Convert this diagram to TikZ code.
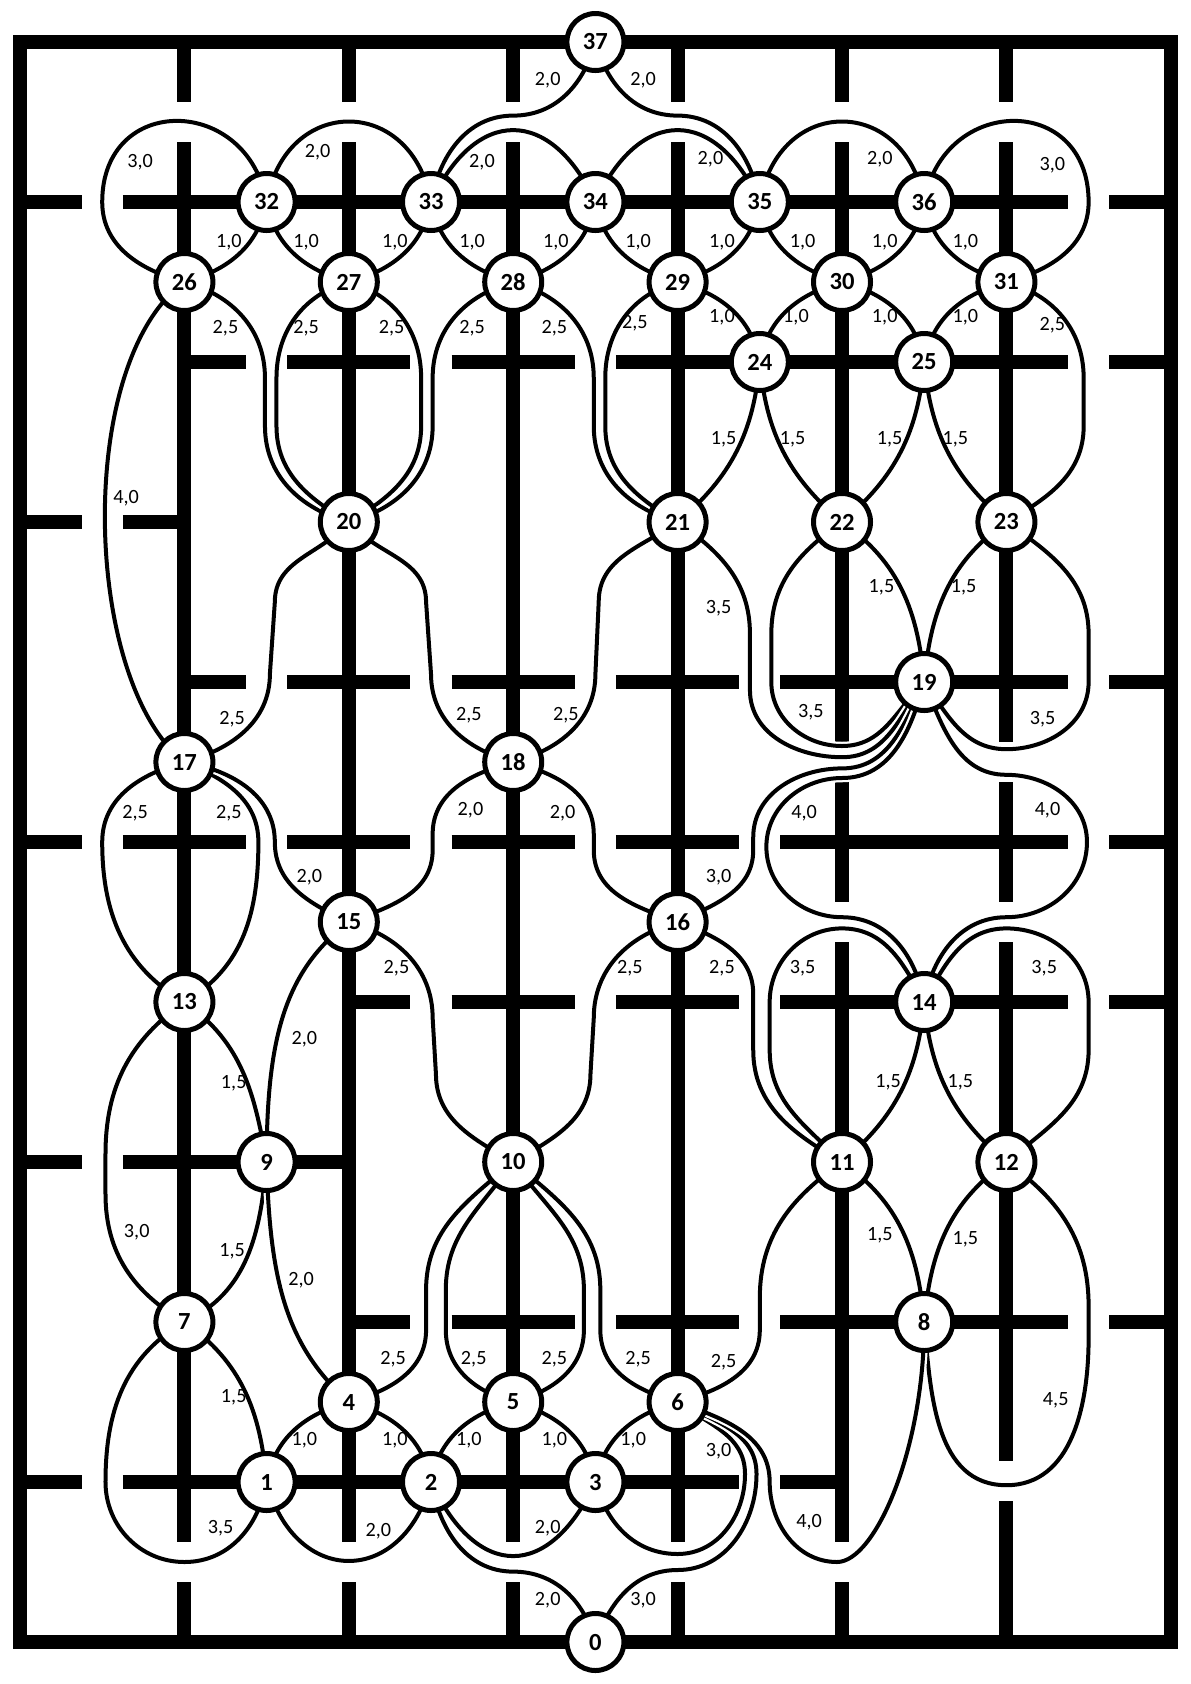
\documentclass[tikz,border=0pt]{standalone}
\usepackage{fontspec}
\setmainfont{Carlito}
\pgfdeclarelayer{walls}
\pgfdeclarelayer{edges}
\pgfsetlayers{walls,edges,main}
\begin{document}
\begin{tikzpicture}[x=3.288cm,y=-3.2cm,
 wallline/.style={line width=0.28cm, line cap=butt, line join=miter},
 link/.style={line width=0.08cm, preaction={draw=white, line width=0.17cm}},
 vtx/.style={circle, draw, line width=0.1cm, fill=white, minimum size=1.14cm, inner sep=0pt, font=\bfseries\fontsize{14}{15}\selectfont},
 lbl/.style={inner sep=0pt, font=\fontsize{11.5}{12}\selectfont}]
\useasboundingbox (-0.1217,-0.2625) rectangle (7.1168,10.2625);
% nodes
\node[vtx] (n37) at (3.5,0) {37};
\node[vtx] (n0) at (3.5,10) {0};
\node[vtx] (n32) at (1.5,1) {32};
\node[vtx] (n33) at (2.5,1) {33};
\node[vtx] (n34) at (3.5,1) {34};
\node[vtx] (n35) at (4.5,1) {35};
\node[vtx] (n36) at (5.5,1) {36};
\node[vtx] (n26) at (1,1.5) {26};
\node[vtx] (n27) at (2,1.5) {27};
\node[vtx] (n28) at (3,1.5) {28};
\node[vtx] (n29) at (4,1.5) {29};
\node[vtx] (n30) at (5,1.5) {30};
\node[vtx] (n31) at (6,1.5) {31};
\node[vtx] (n24) at (4.5,2) {24};
\node[vtx] (n25) at (5.5,2) {25};
\node[vtx] (n20) at (2,3) {20};
\node[vtx] (n21) at (4,3) {21};
\node[vtx] (n22) at (5,3) {22};
\node[vtx] (n23) at (6,3) {23};
\node[vtx] (n19) at (5.5,4) {19};
\node[vtx] (n17) at (1,4.5) {17};
\node[vtx] (n18) at (3,4.5) {18};
\node[vtx] (n15) at (2,5.5) {15};
\node[vtx] (n16) at (4,5.5) {16};
\node[vtx] (n13) at (1,6) {13};
\node[vtx] (n14) at (5.5,6) {14};
\node[vtx] (n9) at (1.5,7) {9};
\node[vtx] (n10) at (3,7) {10};
\node[vtx] (n11) at (5,7) {11};
\node[vtx] (n12) at (6,7) {12};
\node[vtx] (n7) at (1,8) {7};
\node[vtx] (n8) at (5.5,8) {8};
\node[vtx] (n4) at (2,8.5) {4};
\node[vtx] (n5) at (3,8.5) {5};
\node[vtx] (n6) at (4,8.5) {6};
\node[vtx] (n1) at (1.5,9) {1};
\node[vtx] (n2) at (2.5,9) {2};
\node[vtx] (n3) at (3.5,9) {3};
% labels
\foreach \x/\y/\a/\b [count=\i] in {
 3.21/0.24/2/0, 3.79/0.24/2/0, 0.73/0.75/3/0, 1.81/0.69/2/0, 2.81/0.75/2/0,
 4.2/0.73/2/0, 5.23/0.73/2/0, 6.28/0.77/3/0,
 1.27/1.25/1/0, 1.74/1.25/1/0, 2.28/1.25/1/0, 2.75/1.25/1/0, 3.26/1.25/1/0,
 3.76/1.25/1/0, 4.27/1.25/1/0, 4.76/1.25/1/0, 5.26/1.25/1/0, 5.75/1.25/1/0,
 1.25/1.79/2/5, 1.74/1.79/2/5, 2.26/1.79/2/5, 2.75/1.79/2/5, 3.25/1.79/2/5, 3.74/1.76/2/5,
 4.27/1.72/1/0, 4.72/1.72/1/0, 5.26/1.72/1/0, 5.75/1.72/1/0, 6.28/1.77/2/5,
 4.28/2.48/1/5, 4.70/2.48/1/5, 5.29/2.48/1/5, 5.69/2.48/1/5,
 0.645/2.85/4/0, 4.25/3.54/3/5, 5.24/3.41/1/5, 5.74/3.41/1/5,
 1.29/4.23/2/5, 2.73/4.21/2/5, 3.32/4.21/2/5, 4.81/4.19/3/5, 6.22/4.23/3/5,
 0.70/4.82/2/5, 1.27/4.82/2/5, 2.74/4.80/2/0, 3.30/4.82/2/0, 4.77/4.82/4/0, 6.25/4.80/4/0,
 1.76/5.22/2/0, 4.25/5.22/3/0,
 2.29/5.79/2/5, 3.71/5.79/2/5, 4.27/5.79/2/5, 4.76/5.79/3/5, 6.23/5.79/3/5,
 1.73/6.23/2/0, 1.30/6.51/1/5, 5.28/6.50/1/5, 5.72/6.50/1/5,
 0.71/7.44/3/0, 1.29/7.56/1/5, 5.23/7.46/1/5, 5.75/7.48/1/5, 1.71/7.74/2/0,
 2.27/8.23/2/5, 2.76/8.23/2/5, 3.25/8.23/2/5, 3.76/8.23/2/5, 4.28/8.25/2/5,
 1.30/8.47/1/5, 6.30/8.49/4/5,
 1.73/8.74/1/0, 2.28/8.74/1/0, 2.73/8.74/1/0, 3.25/8.74/1/0, 3.73/8.74/1/0,
 4.25/8.81/3/0, 4.80/9.25/4/0, 1.22/9.29/3/5, 2.18/9.31/2/0, 3.21/9.29/2/0,
 3.21/9.74/2/0, 3.79/9.74/3/0}
 \node[lbl] (lab\i) at (\x,\y) {\a,\b};
% walls
\begin{pgfonlayer}{walls}
\draw[wallline] (0,0) rectangle (7,10);
\draw[wallline] (0,1)--(0.375,1) (0.625,1)--(6.375,1) (6.625,1)--(7,1);
\draw[wallline] (1,2)--(1.375,2) (1.625,2)--(2.375,2) (2.625,2)--(3.375,2) (3.625,2)--(6.375,2) (6.625,2)--(7,2);
\draw[wallline] (0,3)--(0.375,3) (0.625,3)--(1,3);
\draw[wallline] (1,4)--(1.375,4) (1.625,4)--(2.375,4) (2.625,4)--(3.375,4) (3.625,4)--(4.375,4) (4.625,4)--(6.375,4) (6.625,4)--(7,4);
\draw[wallline] (0,5)--(0.375,5) (0.625,5)--(1.375,5) (1.625,5)--(2.375,5) (2.625,5)--(3.375,5) (3.625,5)--(4.375,5) (4.625,5)--(6.375,5) (6.625,5)--(7,5);
\draw[wallline] (2,6)--(2.375,6) (2.625,6)--(3.375,6) (3.625,6)--(4.375,6) (4.625,6)--(6.375,6) (6.625,6)--(7,6);
\draw[wallline] (0,7)--(0.375,7) (0.625,7)--(2,7);
\draw[wallline] (2,8)--(2.375,8) (2.625,8)--(3.375,8) (3.625,8)--(4.375,8) (4.625,8)--(6.375,8) (6.625,8)--(7,8);
\draw[wallline] (0,9)--(0.375,9) (0.625,9)--(4.375,9) (4.625,9)--(5,9);
\foreach \c in {1,2,3,4}
 \draw[wallline] (\c,0)--(\c,0.375) (\c,0.625)--(\c,9.375) (\c,9.625)--(\c,10);
\draw[wallline] (5,0)--(5,0.375) (5,0.625)--(5,4.375) (5,4.625)--(5,5.375) (5,5.625)--(5,9.375) (5,9.625)--(5,10);
\draw[wallline] (6,0)--(6,0.375) (6,0.625)--(6,4.375) (6,4.625)--(6,5.375) (6,5.625)--(6,8.87) (6,9.12)--(6,10);
\end{pgfonlayer}
% connectors
\begin{pgfonlayer}{edges}
\draw[link] (n37.center) to[out=-105,in=0] (3,0.46) to[out=180,in=80] (n33.center);
\draw[link] (n37.center) to[out=-75,in=180] (4,0.46) to[out=0,in=100] (n35.center);
\draw[link] (n32.center) to[out=80,in=100,looseness=1.7] (n33.center);
\draw[link] (n33.center) to[out=65,in=115,looseness=1.65] (n34.center);
\draw[link] (n34.center) to[out=65,in=115,looseness=1.65] (n35.center);
\draw[link] (n35.center) to[out=80,in=100,looseness=1.7] (n36.center);
\draw[link] (n32.center) to[out=100,in=90,looseness=1.7] (0.5,1) to[out=-90,in=165] (n26.center);
\draw[link] (n36.center) to[out=80,in=90,looseness=1.7] (6.5,1) to[out=-90,in=15] (n31.center);
\draw[link] (n26.center) to[out=15,in=-100] (n32.center);
\draw[link] (n32.center) to[out=-80,in=165] (n27.center);
\draw[link] (n27.center) to[out=15,in=-100] (n33.center);
\draw[link] (n33.center) to[out=-80,in=165] (n28.center);
\draw[link] (n28.center) to[out=15,in=-100] (n34.center);
\draw[link] (n34.center) to[out=-80,in=165] (n29.center);
\draw[link] (n29.center) to[out=15,in=-100] (n35.center);
\draw[link] (n35.center) to[out=-80,in=165] (n30.center);
\draw[link] (n30.center) to[out=15,in=-100] (n36.center);
\draw[link] (n36.center) to[out=-80,in=165] (n31.center);
\draw[link] (n29.center) to[out=-15,in=100] (n24.center);
\draw[link] (n30.center) to[out=-165,in=80] (n24.center);
\draw[link] (n30.center) to[out=-15,in=100] (n25.center);
\draw[link] (n31.center) to[out=-165,in=80] (n25.center);
\draw[link] (n26.center) to[out=-15,in=90] (1.49,2.1) -- (1.49,2.4) to[out=-90,in=165] (n20.center);
\draw[link] (n27.center) to[out=-165,in=90] (1.56,2.1) -- (1.56,2.4) to[out=-90,in=150] (n20.center);
\draw[link] (n27.center) to[out=-15,in=90] (2.44,2.1) -- (2.44,2.4) to[out=-90,in=30] (n20.center);
\draw[link] (n28.center) to[out=-165,in=90] (2.51,2.1) -- (2.51,2.4) to[out=-90,in=15] (n20.center);
\draw[link] (n28.center) to[out=-15,in=90] (3.49,2.1) -- (3.49,2.4) to[out=-90,in=165] (n21.center);
\draw[link] (n29.center) to[out=-165,in=90] (3.56,2.1) -- (3.56,2.4) to[out=-90,in=150] (n21.center);
\draw[link] (n31.center) to[out=-15,in=90] (6.47,2.1) -- (6.47,2.4) to[out=-90,in=30] (n23.center);
\draw[link] (n24.center) to[out=-95,in=40] (n21.center);
\draw[link] (n24.center) to[out=-85,in=140] (n22.center);
\draw[link] (n25.center) to[out=-95,in=40] (n22.center);
\draw[link] (n25.center) to[out=-85,in=140] (n23.center);
\draw[link] (n22.center) to[out=-35,in=95] (n19.center);
\draw[link] (n23.center) to[out=-145,in=85] (n19.center);
\draw[link] (n22.center) to[out=-145,in=90] (4.57,3.7) -- (4.57,4.0) to[out=-90,in=180] (5.0,4.40) to[out=0,in=-135] (n19.center);
\draw[link] (n21.center) to[out=-35,in=90] (4.44,3.7) -- (4.44,4.05) to[out=-90,in=180] (5.0,4.47) to[out=0,in=-125] (n19.center);
\draw[link] (n23.center) to[out=-35,in=90] (6.5,3.7) -- (6.5,4.0) to[out=-90,in=0] (6.0,4.42) to[out=180,in=-55] (n19.center);
\draw[link] (n19.center) to[out=-115,in=0] (5.0,4.54) to[out=180,in=90] (4.46,4.97) -- (4.46,5.05) to[out=-90,in=25] (n16.center);
\draw[link] (n19.center) to[out=-105,in=0] (5.0,4.60) to[out=180,in=90] (4.54,5.03) to[out=-90,in=180] (5.0,5.47) to[out=0,in=100] (n14.center);
\draw[link] (n19.center) to[out=-68,in=180] (6.0,4.58) to[out=0,in=90] (6.49,5.0) to[out=-90,in=0] (6.0,5.47) to[out=180,in=80] (n14.center);
\draw[link] (n14.center) to[out=118,in=0] (5.0,5.54) to[out=180,in=90] (4.56,6.0) -- (4.56,6.3) to[out=-90,in=135] (n11.center);
\draw[link] (n16.center) to[out=-20,in=90] (4.46,5.95) -- (4.46,6.3) to[out=-90,in=150] (n11.center);
\draw[link] (n14.center) to[out=62,in=180] (6.0,5.54) to[out=0,in=90] (6.5,6.0) -- (6.5,6.3) to[out=-90,in=40] (n12.center);
\draw[link] (n14.center) to[out=-95,in=40] (n11.center);
\draw[link] (n14.center) to[out=-85,in=140] (n12.center);
\draw[link] (n20.center) to[out=-130,in=90] (1.55,3.5) -- (1.52,3.95) to[out=-90,in=15] (n17.center);
\draw[link] (n20.center) to[out=-50,in=90] (2.47,3.5) -- (2.5,3.95) to[out=-90,in=165] (n18.center);
\draw[link] (n21.center) to[out=-145,in=90] (3.52,3.5) -- (3.5,3.95) to[out=-90,in=15] (n18.center);
\draw[link] (n26.center) .. controls (0.33,2.0) and (0.38,4.0) .. (n17.center);
\draw[link] (n17.center) to[out=-165,in=90] (0.5,5.0) to[out=-90,in=150] (n13.center);
\draw[link] (n17.center) to[out=-22,in=90] (1.45,5.0) to[out=-90,in=30] (n13.center);
\draw[link] (n17.center) to[out=-10,in=90] (1.55,5.0) to[out=-90,in=155] (n15.center);
\draw[link] (n18.center) to[out=-165,in=90] (2.51,4.95) -- (2.51,5.05) to[out=-90,in=20] (n15.center);
\draw[link] (n18.center) to[out=-15,in=90] (3.49,4.95) -- (3.49,5.05) to[out=-90,in=160] (n16.center);
\draw[link] (n15.center) .. controls (1.62,5.8) and (1.5,6.2) .. (n9.center);
\draw[link] (n15.center) to[out=-15,in=90] (2.51,6.1) -- (2.53,6.45) to[out=-90,in=150] (n10.center);
\draw[link] (n16.center) to[out=-165,in=90] (3.49,6.1) -- (3.47,6.45) to[out=-90,in=30] (n10.center);
\draw[link] (n13.center) to[out=-35,in=100] (n9.center);
\draw[link] (n13.center) to[out=-145,in=90] (0.52,6.95) -- (0.52,7.2) to[out=-90,in=150] (n7.center);
\draw[link] (n9.center) to[out=-95,in=25] (n7.center);
\draw[link] (n9.center) .. controls (1.52,7.75) and (1.62,8.15) .. (n4.center);
\draw[link] (n10.center) to[out=-140,in=90] (2.47,7.8) -- (2.47,8.05) to[out=-90,in=15] (n4.center);
\draw[link] (n10.center) to[out=-125,in=90] (2.59,7.8) -- (2.59,8.05) to[out=-90,in=165] (n5.center);
\draw[link] (n10.center) to[out=-55,in=90] (3.43,7.8) -- (3.43,8.05) to[out=-90,in=15] (n5.center);
\draw[link] (n10.center) to[out=-40,in=90] (3.53,7.8) -- (3.53,8.05) to[out=-90,in=165] (n6.center);
\draw[link] (n11.center) to[out=-145,in=90] (4.5,7.85) -- (4.5,8.05) to[out=-90,in=15] (n6.center);
\draw[link] (n11.center) to[out=-35,in=95] (n8.center);
\draw[link] (n12.center) to[out=-145,in=85] (n8.center);
\draw[link] (n12.center) to[out=-35,in=90] (6.5,7.9) -- (6.5,8.1) to[out=-90,in=0] (6.0,9.02) to[out=180,in=-85] (n8.center);
\draw[link] (n7.center) to[out=-35,in=95] (n1.center);
\draw[link] (n7.center) to[out=-150,in=90] (0.52,9.0) to[out=-90,in=180] (1.0,9.5) to[out=0,in=-100] (n1.center);
\draw[link] (n4.center) to[out=-165,in=80] (n1.center);
\draw[link] (n4.center) to[out=-15,in=100] (n2.center);
\draw[link] (n5.center) to[out=-165,in=80] (n2.center);
\draw[link] (n5.center) to[out=-15,in=100] (n3.center);
\draw[link] (n6.center) to[out=-165,in=80] (n3.center);
\draw[link] (n1.center) to[out=-75,in=-105,looseness=1.7] (n2.center);
\draw[link] (n2.center) to[out=-65,in=-115,looseness=1.7] (n3.center);
\draw[link] (n2.center) to[out=-80,in=180] (3.0,9.56) to[out=0,in=105] (n0.center);
\draw[link] (n6.center) to[out=-36,in=90] (4.41,8.95) to[out=-90,in=0] (4.0,9.45) to[out=180,in=-75] (n3.center);
\draw[link] (n6.center) to[out=-28,in=90] (4.48,8.95) to[out=-90,in=0] (4.0,9.55) to[out=180,in=70] (n0.center);
\draw[link] (n6.center) to[out=-20,in=90] (4.56,9.0) to[out=-90,in=180] (4.97,9.5) .. controls (5.2,9.5) and (5.5,8.8) .. (n8.center);
\end{pgfonlayer}
\end{tikzpicture}
\end{document}
